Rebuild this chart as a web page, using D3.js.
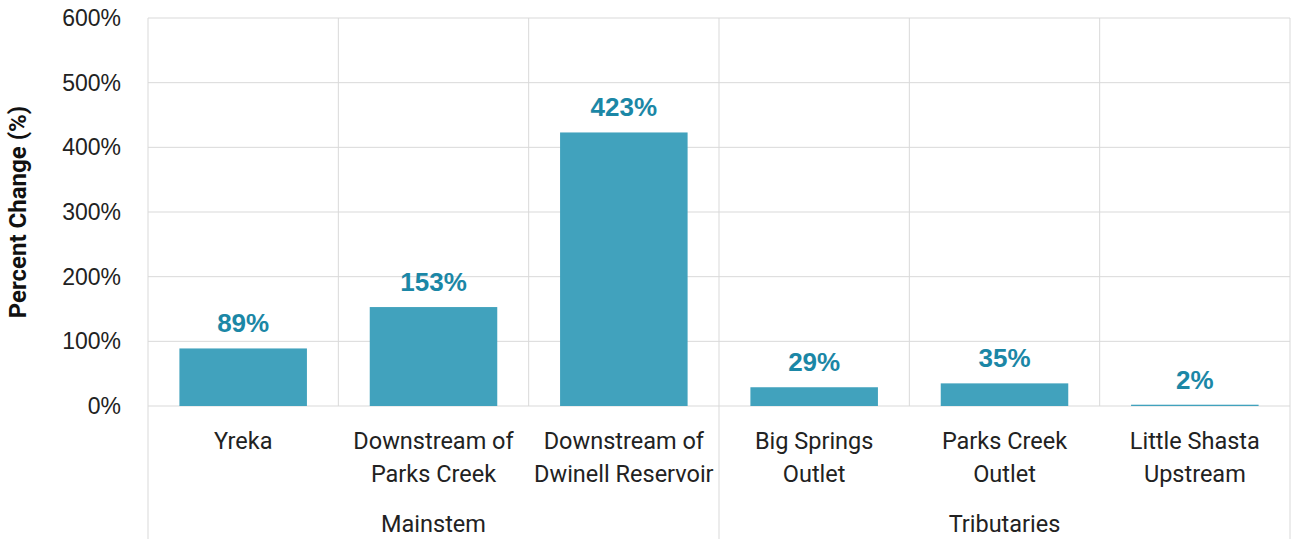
<!DOCTYPE html>
<html>
<head>
<meta charset="utf-8">
<script src="https://cdn.jsdelivr.net/npm/d3@7"></script>
<style>
  body { margin: 0; background: #fff; }
  svg { display: block; }
</style>
</head>
<body>
<svg></svg>
<script>
// data
const categories = ["Yreka", "Downstream of\nParks Creek", "Downstream of\nDwinell Reservoir",
    "Big Springs\nOutlet", "Parks Creek\nOutlet", "Little Shasta\nUpstream"];
const groups = ["Mainstem", "Mainstem", "Mainstem", "Tributaries", "Tributaries", "Tributaries"];
const values = [89, 153, 423, 29, 35, 2];
const yTicks = [0, 100, 200, 300, 400, 500, 600];

const width = 1293, height = 539;
const margin = {top: 18, right: 3, bottom: 133, left: 148};

const gridColor = "#d9d9d9";
const barColor = "#41a2bd";
const labelColor = "#1b87a6";
const font = "Roboto, 'Liberation Sans', sans-serif";
const numFont = "'Liberation Sans', Arial, sans-serif";

const svg = d3.select("svg")
    .attr("width", width)
    .attr("height", height);

const x = d3.scaleBand()
    .domain(d3.range(categories.length))
    .range([margin.left, width - margin.right])
    .padding(0);

const y = d3.scaleLinear()
    .domain([0, 600])
    .range([height - margin.bottom, margin.top]);

const plotBottom = y(0);

// horizontal gridlines
svg.append("g")
    .selectAll("line")
    .data(yTicks)
    .enter().append("line")
    .attr("x1", margin.left)
    .attr("x2", width - margin.right)
    .attr("y1", d => y(d))
    .attr("y2", d => y(d))
    .attr("stroke", gridColor)
    .attr("stroke-width", 1);

// vertical gridlines between categories
const edges = d3.range(categories.length + 1).map(i => i < categories.length ? x(i) : x(i - 1) + x.bandwidth());
svg.append("g")
    .selectAll("line")
    .data(edges)
    .enter().append("line")
    .attr("x1", d => d)
    .attr("x2", d => d)
    .attr("y1", margin.top)
    .attr("y2", d => plotBottom)
    .attr("stroke", gridColor);

// group separators run down through the label area
const groupEdges = [edges[0], edges[3], edges[6]];
svg.append("g")
    .selectAll("line")
    .data(groupEdges)
    .enter().append("line")
    .attr("x1", d => d)
    .attr("x2", d => d)
    .attr("y1", plotBottom)
    .attr("y2", height)
    .attr("stroke", gridColor);

// y tick labels
svg.append("g")
    .selectAll("text")
    .data(yTicks)
    .enter().append("text")
    .attr("x", 121)
    .attr("y", d => y(d))
    .attr("dy", "0.35em")
    .attr("text-anchor", "end")
    .attr("font-family", numFont)
    .attr("font-size", 23)
    .attr("fill", "#222")
    .text(d => d + "%");

// y axis title
svg.append("text")
    .attr("transform", "translate(26," + ((margin.top + plotBottom) / 2) + ") rotate(-90)")
    .attr("text-anchor", "middle")
    .attr("font-family", font)
    .attr("font-size", 24)
    .attr("font-weight", "bold")
    .attr("fill", "#111")
    .text("Percent Change (%)");

// bars
const barW = x.bandwidth() * 0.67;
svg.append("g")
    .selectAll("rect")
    .data(values)
    .enter().append("rect")
    .attr("x", (d, i) => x(i) + (x.bandwidth() - barW) / 2)
    .attr("y", d => y(d))
    .attr("width", barW)
    .attr("height", d => plotBottom - y(d))
    .attr("fill", barColor);

// value labels
svg.append("g")
    .selectAll("text")
    .data(values)
    .enter().append("text")
    .attr("x", (d, i) => x(i) + x.bandwidth() / 2)
    .attr("y", d => y(d) - 16)
    .attr("text-anchor", "middle")
    .attr("font-family", numFont)
    .attr("font-size", 26)
    .attr("font-weight", "bold")
    .attr("fill", labelColor)
    .text(d => d + "%");

// category labels, two lines
const catText = svg.append("g")
    .selectAll("text")
    .data(categories)
    .enter().append("text")
    .attr("text-anchor", "middle")
    .attr("font-family", font)
    .attr("font-size", 23.5)
    .attr("fill", "#222");

catText.selectAll("tspan")
    .data((d, i) => d.split("\n").map(s => ({s: s, i: i})))
    .enter().append("tspan")
    .attr("x", d => x(d.i) + x.bandwidth() / 2)
    .attr("y", (d, j) => plotBottom + 43 + j * 33)
    .text(d => d.s);

// group labels
const groupNames = Array.from(new Set(groups));
svg.append("g")
    .selectAll("text")
    .data(groupNames)
    .enter().append("text")
    .attr("x", g => {
        const idx = groups.map((v, i) => v === g ? i : -1).filter(i => i >= 0);
        return (x(idx[0]) + x(idx[idx.length - 1]) + x.bandwidth()) / 2;
    })
    .attr("y", plotBottom + 126)
    .attr("text-anchor", "middle")
    .attr("font-family", font)
    .attr("font-size", 23.5)
    .attr("fill", "#222")
    .text(g => g);
</script>
</body>
</html>
